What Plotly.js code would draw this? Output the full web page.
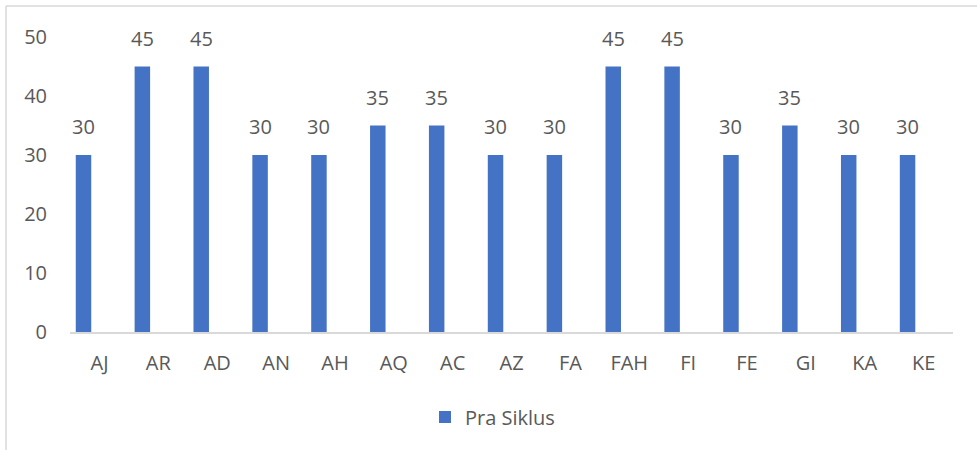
<!DOCTYPE html>
<html>
<head>
<meta charset="utf-8">
<script src="https://cdn.plot.ly/plotly-3.0.1.min.js"></script>
<style>html,body{margin:0;padding:0;background:#fff;}#chart{width:977px;height:450px;}</style>
</head>
<body>
<div id="chart"></div>
<script>
const categories = ["AJ","AR","AD","AN","AH","AQ","AC","AZ","FA","FAH","FI","FE","GI","KA","KE"];
const praSiklus = [30,45,45,30,30,35,35,30,30,45,45,30,35,30,30];
const seriesName = "Pra Siklus";
const yTicks = [0,10,20,30,40,50];

const fontFam = "Open Sans, Noto Sans, sans-serif";
const txtColor = "#595959";
const fs = 20;
const L = 70, R = 24, T = 37, B = 118;
const W = 977, H = 450;
const pw = W - L - R, ph = H - T - B;
const barW = 0.263, barShift = -0.272;

const annotations = categories.map((c, i) => ({
  x: i + barShift, y: praSiklus[i], xref: "x", yref: "y",
  text: String(praSiklus[i]), showarrow: false,
  yanchor: "bottom", yshift: 13,
  font: {family: fontFam, size: fs, color: txtColor}
}));

const shapes = [
  {type: "line", xref: "paper", yref: "paper",
   x0: (6 - L) / pw, x1: (W + 10 - L) / pw, y0: 1 + (T - 6) / ph, y1: 1 + (T - 6) / ph,
   line: {color: "#d9d9d9", width: 1.5}},
  {type: "line", xref: "paper", yref: "paper",
   x0: (6 - L) / pw, x1: (6 - L) / pw, y0: 1 + (T - 6) / ph, y1: -(B + 10) / ph,
   line: {color: "#d9d9d9", width: 1.5}}
];

Plotly.newPlot("chart", [{
  type: "bar", x: categories, y: praSiklus, name: seriesName,
  width: barW, offset: barShift - barW / 2,
  marker: {color: "#4472C4"}, showlegend: true, hoverinfo: "none"
}], {
  width: W, height: H,
  margin: {l: L, r: R, t: T, b: B, pad: 0},
  paper_bgcolor: "#fff", plot_bgcolor: "#fff",
  font: {family: fontFam, size: fs, color: txtColor},
  xaxis: {
    showline: true, linecolor: "#d9d9d9", linewidth: 1.5,
    showgrid: false, zeroline: false, ticks: "",
    ticklabelstandoff: 12,
    tickfont: {family: fontFam, size: fs, color: txtColor}
  },
  yaxis: {
    range: [0, 50], tickvals: yTicks, showgrid: false, zeroline: false,
    showline: false, ticks: "", ticklabelstandoff: 22,
    tickfont: {family: fontFam, size: fs, color: txtColor}
  },
  showlegend: true,
  legend: {
    orientation: "h", x: (443 - 18 - L) / pw, xanchor: "left",
    y: (332 - 417) / ph, yanchor: "middle",
    font: {family: fontFam, size: fs, color: txtColor}
  },
  annotations: annotations,
  shapes: shapes
}, {displayModeBar: false, staticPlot: true});
</script>
</body>
</html>
